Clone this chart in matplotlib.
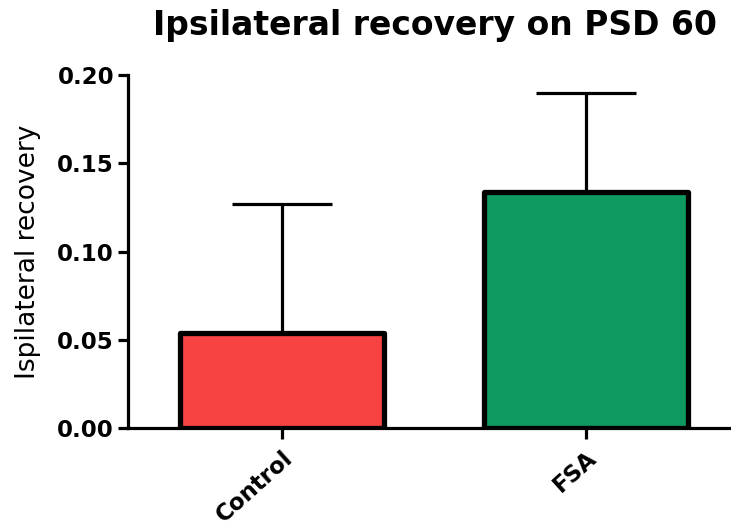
import matplotlib
matplotlib.use("Agg")
import matplotlib.pyplot as plt

categories = ["Control", "FSA"]
means = [0.0538, 0.1337]
errors_upper = [0.0732, 0.0561]
bar_colors = ["#F84343", "#0E9961"]
yticks = [0.00, 0.05, 0.10, 0.15, 0.20]
ytick_labels = ["0.00", "0.05", "0.10", "0.15", "0.20"]

plt.rcParams['font.family'] = ['DejaVu Sans']

fig = plt.figure(figsize=(7.31, 5.29), dpi=100)
ax = fig.add_axes([0.175, 0.191, 0.825, 0.667])

x = list(range(len(categories)))
ax.errorbar(x, means, yerr=[[0] * len(means), errors_upper], fmt='none',
            ecolor='black', elinewidth=2.3, capsize=36, capthick=2.3, zorder=1)
bars = ax.bar(x, means, width=0.67, color=bar_colors, edgecolor='black',
              linewidth=3.8, zorder=2)
for b in bars:
    b.set_joinstyle('round')

ax.set_xlim(-0.507, 1.477)
ax.set_ylim(0, 0.2)
ax.set_yticks(yticks)
ax.set_yticklabels(ytick_labels, fontsize=16.5, fontweight='bold')
ax.set_xticks(x)
ax.set_xticklabels(categories, fontsize=16.5, fontweight='bold', rotation=42,
                   ha='right', rotation_mode='anchor')

for s in ['top', 'right']:
    ax.spines[s].set_visible(False)
for s in ['left', 'bottom']:
    ax.spines[s].set_linewidth(2.3)
ax.spines['bottom'].set_zorder(3)

ax.tick_params(axis='y', length=7, width=2.3, pad=3)
ax.tick_params(axis='x', length=8, width=2.3, pad=5)

ax.set_ylabel("Ispilateral recovery", fontsize=19, labelpad=12)
ax.set_title("Ipsilateral recovery on PSD 60", fontsize=23.8, fontweight='bold',
             pad=29, x=0.51)

fig.savefig("out.png", dpi=100)
